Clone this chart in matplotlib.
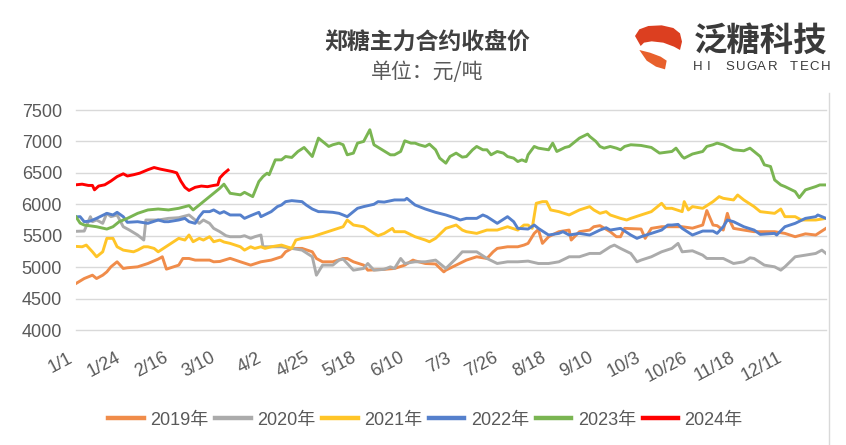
import matplotlib
matplotlib.use("Agg")
import matplotlib.pyplot as plt
from matplotlib.patches import Polygon
from matplotlib.lines import Line2D

plt.rcParams['font.family'] = ['Liberation Sans', 'Noto Sans CJK SC']

# x axis: calendar day of a leap year (1/1 = day 0), ticks every 23 days
tick_days = [0, 23, 46, 69, 92, 115, 138, 161, 184, 207, 230, 253, 276, 299, 322, 345]
tick_labels = ['1/1', '1/24', '2/16', '3/10', '4/2', '4/25', '5/18', '6/10',
               '7/3', '7/26', '8/18', '9/10', '10/3', '10/26', '11/18', '12/11']

# (day, close)
p2019 = [(0, 4740), (4, 4819), (8, 4872), (10, 4819), (13, 4872), (15, 4925), (17, 5005),
         (20, 5085), (23, 4979), (25, 4990), (30, 5005), (35, 5058), (40, 5128), (42, 5165),
         (44, 4968), (50, 5032), (52, 5138), (55, 5138), (58, 5112), (60, 5112), (65, 5112),
         (67, 5085), (70, 5090), (75, 5140), (80, 5085), (85, 5032), (90, 5085), (95, 5112),
         (100, 5165), (102, 5244), (105, 5298), (110, 5298), (115, 5244), (117, 5138),
         (120, 5085), (125, 5085), (130, 5138), (132, 5138), (135, 5085), (140, 5032),
         (142, 4952), (150, 4965), (155, 4979), (160, 5032), (164, 5112), (165, 5100),
         (170, 5058), (175, 5050), (179, 4925), (180, 4952), (185, 5032), (190, 5112),
         (195, 5165), (200, 5138), (203, 5244), (205, 5298), (210, 5324), (215, 5324),
         (218, 5351), (220, 5378), (223, 5537), (225, 5600), (227, 5378), (230, 5484),
         (235, 5564), (240, 5590), (241, 5431), (245, 5564), (250, 5590), (252, 5643),
         (255, 5660), (260, 5564), (263, 5484), (265, 5484), (267, 5617), (275, 5606),
         (277, 5458), (280, 5617), (285, 5643), (295, 5643), (300, 5620), (305, 5670),
         (307, 5900), (310, 5670), (312, 5660), (315, 5590), (317, 5856), (318, 5750),
         (320, 5617), (325, 5590), (330, 5564), (340, 5564), (345, 5537), (350, 5484),
         (355, 5530), (360, 5511), (365, 5617)]

p2020 = [(0, 5570), (4, 5574), (7, 5803), (8, 5723), (10, 5750), (13, 5697), (15, 5856),
         (17, 5803), (20, 5830), (23, 5643), (26, 5590), (30, 5511), (33, 5431), (34, 5750),
         (40, 5750), (45, 5776), (50, 5787), (55, 5830), (58, 5750), (60, 5697), (62, 5750),
         (65, 5697), (67, 5617), (70, 5564), (73, 5500), (75, 5484), (80, 5484), (82, 5500),
         (85, 5458), (87, 5484), (90, 5511), (91, 5324), (95, 5324), (100, 5324), (105, 5298),
         (110, 5271), (115, 5165), (117, 4872), (120, 5032), (125, 5032), (128, 5112),
         (130, 5128), (132, 5058), (135, 4952), (140, 4979), (142, 5058), (145, 4952),
         (150, 4965), (153, 5005), (155, 4979), (158, 5138), (160, 5058), (165, 5085),
         (170, 5085), (175, 5112), (180, 4979), (185, 5138), (188, 5244), (195, 5244),
         (200, 5138), (205, 5058), (210, 5085), (215, 5085), (220, 5096), (225, 5058),
         (230, 5058), (235, 5085), (240, 5165), (245, 5165), (250, 5218), (255, 5218),
         (260, 5324), (262, 5351), (265, 5298), (270, 5218), (273, 5085), (275, 5112),
         (280, 5165), (285, 5244), (290, 5298), (293, 5378), (295, 5244), (300, 5260),
         (305, 5191), (307, 5138), (315, 5138), (320, 5058), (325, 5085), (328, 5149),
         (330, 5138), (335, 5032), (340, 5005), (343, 4952), (345, 5005), (350, 5165),
         (355, 5191), (360, 5218), (363, 5271), (365, 5218)]

p2021 = [(0, 5330), (3, 5324), (5, 5351), (8, 5244), (10, 5165), (13, 5244), (15, 5458),
         (18, 5458), (20, 5324), (23, 5271), (28, 5244), (30, 5271), (33, 5324), (35, 5324),
         (38, 5298), (40, 5244), (45, 5351), (50, 5458), (53, 5431), (55, 5511), (57, 5404),
         (60, 5458), (62, 5431), (65, 5484), (67, 5404), (70, 5431), (72, 5400), (75, 5378),
         (80, 5324), (82, 5271), (85, 5324), (87, 5298), (90, 5324), (92, 5298), (95, 5324),
         (100, 5351), (105, 5298), (107, 5431), (110, 5458), (115, 5484), (120, 5537),
         (125, 5590), (130, 5643), (132, 5750), (135, 5670), (140, 5643), (145, 5537),
         (147, 5500), (150, 5537), (154, 5617), (155, 5564), (160, 5564), (165, 5484),
         (170, 5431), (172, 5404), (175, 5458), (180, 5617), (185, 5670), (188, 5590),
         (190, 5564), (195, 5537), (200, 5590), (205, 5590), (210, 5643), (215, 5590),
         (218, 5670), (220, 5670), (222, 5617), (224, 6016), (227, 6042), (229, 6042),
         (231, 5910), (235, 5883), (240, 5830), (245, 5910), (250, 5963), (252, 5910),
         (255, 5856), (258, 5883), (260, 5830), (265, 5776), (268, 5750), (270, 5776),
         (275, 5830), (280, 5883), (285, 6016), (287, 5936), (290, 5936), (295, 5883),
         (296, 6042), (298, 5910), (300, 5963), (305, 5936), (310, 6042), (313, 6122),
         (315, 6095), (320, 6069), (322, 6148), (325, 6069), (330, 5963), (333, 5883),
         (340, 5856), (343, 5925), (345, 5803), (350, 5803), (353, 5750), (360, 5750),
         (365, 5776)]

p2022 = [(0, 5800), (2, 5803), (4, 5723), (7, 5734), (10, 5776), (15, 5856), (18, 5830),
         (20, 5872), (23, 5803), (25, 5713), (30, 5723), (35, 5697), (40, 5750), (43, 5723),
         (45, 5723), (50, 5750), (53, 5776), (55, 5723), (58, 5697), (60, 5803), (62, 5883),
         (65, 5883), (67, 5910), (70, 5856), (72, 5883), (75, 5830), (80, 5830), (82, 5776),
         (85, 5819), (89, 5872), (90, 5803), (95, 5883), (98, 5963), (100, 5989), (102, 6042),
         (105, 6058), (110, 6042), (112, 5989), (115, 5925), (118, 5883), (120, 5883),
         (125, 5872), (128, 5856), (130, 5830), (132, 5803), (135, 5883), (137, 5936),
         (140, 5963), (145, 6000), (147, 6042), (150, 6035), (155, 6069), (160, 6069),
         (161, 6095), (165, 5989), (170, 5925), (175, 5872), (180, 5830), (185, 5776),
         (187, 5750), (190, 5776), (195, 5776), (198, 5830), (200, 5803), (205, 5697),
         (210, 5803), (213, 5723), (215, 5617), (220, 5606), (223, 5670), (225, 5617),
         (230, 5511), (235, 5537), (237, 5564), (240, 5511), (245, 5537), (250, 5511),
         (255, 5590), (258, 5627), (260, 5590), (265, 5617), (270, 5511), (273, 5458),
         (275, 5484), (280, 5537), (285, 5590), (288, 5670), (290, 5670), (293, 5680),
         (295, 5617), (300, 5511), (305, 5574), (310, 5574), (312, 5537), (315, 5643),
         (317, 5750), (320, 5723), (325, 5643), (330, 5590), (333, 5521), (340, 5537),
         (341, 5511), (345, 5643), (350, 5697), (355, 5776), (360, 5803), (361, 5830),
         (365, 5776)]

p2023 = [(0, 5800), (2, 5700), (4, 5670), (10, 5643), (15, 5606), (18, 5643), (21, 5723),
         (25, 5776), (30, 5856), (35, 5910), (40, 5925), (45, 5910), (50, 5936), (55, 5979),
         (57, 5910), (60, 5989), (65, 6122), (70, 6255), (72, 6320), (75, 6175), (80, 6150),
         (82, 6190), (86, 6122), (89, 6362), (91, 6441), (93, 6495), (94, 6470), (97, 6707),
         (100, 6707), (102, 6760), (105, 6745), (108, 6840), (111, 6904), (115, 6760),
         (118, 7053), (120, 7000), (123, 6920), (125, 6947), (128, 6973), (130, 6947),
         (132, 6787), (135, 6814), (137, 6973), (140, 7000), (143, 7186), (145, 6947),
         (149, 6867), (153, 6787), (155, 6787), (158, 6840), (160, 7010), (163, 6973),
         (165, 6973), (167, 6947), (170, 6920), (172, 6957), (175, 6867), (177, 6734),
         (180, 6654), (182, 6760), (185, 6814), (188, 6750), (190, 6760), (193, 6867),
         (195, 6920), (198, 6867), (200, 6867), (202, 6787), (205, 6840), (208, 6814),
         (210, 6760), (213, 6734), (215, 6680), (217, 6707), (219, 6680), (220, 6787),
         (223, 6920), (225, 6893), (230, 6867), (232, 6973), (234, 6840), (238, 6904),
         (240, 6920), (244, 7026), (245, 7053), (249, 7117), (250, 7080), (253, 7000),
         (255, 6920), (257, 6893), (260, 6920), (263, 6893), (265, 6867), (267, 6920),
         (270, 6947), (275, 6936), (280, 6904), (284, 6814), (290, 6840), (292, 6893),
         (295, 6760), (296, 6734), (300, 6800), (305, 6840), (307, 6920), (310, 6947),
         (312, 6973), (315, 6947), (320, 6867), (325, 6851), (328, 6893), (330, 6840),
         (333, 6760), (335, 6628), (338, 6601), (340, 6388), (343, 6308), (345, 6282),
         (350, 6202), (352, 6106), (355, 6229), (360, 6282), (362, 6308), (365, 6308)]

p2024 = [(0, 6310), (3, 6320), (6, 6300), (8, 6300), (9, 6230), (11, 6290), (14, 6310),
         (17, 6370), (20, 6440), (23, 6485), (25, 6450), (28, 6470), (31, 6495), (35, 6550),
         (38, 6585), (41, 6560), (44, 6540), (47, 6520), (49, 6500), (51, 6370), (53, 6270),
         (55, 6220), (58, 6270), (61, 6290), (64, 6280), (67, 6300), (69, 6310), (70, 6420),
         (72, 6490), (74, 6545)]

series = [('2019年', p2019, '#F08C4A'), ('2020年', p2020, '#ABABAB'),
          ('2021年', p2021, '#FFC528'), ('2022年', p2022, '#5580CC'),
          ('2023年', p2023, '#7AB552'), ('2024年', p2024, '#FF0000')]

fig = plt.figure(figsize=(8.46, 4.45), dpi=100)
W, H = 846, 445
ax = fig.add_axes([76 / W, 1 - 330 / H, 750 / W, 220 / H])

for name, pts, color in series:
    days = [p[0] for p in pts]
    vals = [p[1] for p in pts]
    ax.plot(days, vals, color=color, lw=2.1, label=name, solid_joinstyle='round')

ax.set_xlim(0, 365)
ax.set_ylim(4000, 7500)
ax.set_yticks(range(4000, 7501, 500))
ax.set_xticks(tick_days)
ax.set_xticklabels(tick_labels, rotation=28, ha='right')
ax.grid(axis='y', color='#d9d9d9', lw=1)
for g in ax.get_ygridlines():
    g.set_clip_on(False)
ax.set_axisbelow(True)
for s in ax.spines.values():
    s.set_visible(False)
ax.tick_params(length=0, labelsize=13, colors='#595959')
ax.tick_params(axis='y', pad=10)
ax.tick_params(axis='x', pad=14)

leg = fig.legend(loc='center', bbox_to_anchor=(0.503, 1 - 420 / H), ncol=6, frameon=False,
                 fontsize=13, handlelength=1.95, handletextpad=0.35, columnspacing=0.4)
for line in leg.get_lines():
    line.set_linewidth(3.2)
for t in leg.get_texts():
    t.set_color('#595959')

# title
fig.text(427 / W, 1 - 43 / H, '郑糖主力合约收盘价', ha='center', va='center',
         fontsize=16.5, fontweight='bold', color='#404040', family='Noto Sans CJK SC')
fig.text(427 / W, 1 - 72 / H, '单位：元/吨', ha='center', va='center',
         fontsize=15, color='#595959', family='Noto Sans CJK SC')

# logo (top right)
def lp(zx, zy):
    return ((600 + zx / 3) / W, 1 - (zy / 3) / H)

upper = [lp(*p) for p in [(105, 108), (118, 88), (145, 78), (185, 76), (220, 84), (240, 100),
                          (246, 125), (240, 150), (222, 140), (190, 128), (155, 124),
                          (132, 128), (122, 138)]]
lower = [lp(*p) for p in [(118, 150), (150, 158), (182, 170), (200, 182), (195, 208),
                          (168, 200), (140, 182)]]
fig.add_artist(Polygon(upper, closed=True, transform=fig.transFigure, fc='#DC3F20', ec='none'))
fig.add_artist(Polygon(lower, closed=True, transform=fig.transFigure, fc='#E8602C', ec='none'))

fig.text(761 / W, 1 - 41 / H, '泛糖科技', ha='center', va='center', fontsize=24,
         fontweight='bold', color='#3a3a3a', family='Noto Sans CJK SC')
brand = 'HI SUGAR TECH'
for i, ch in enumerate(brand):
    fig.text((698 + i * 10.6) / W, 1 - 67.5 / H, ch, ha='center', va='center',
             fontsize=9.5, color='#3a3a3a', family='Liberation Sans')

fig.add_artist(Line2D([829 / W, 829 / W], [0, 1 - 93 / H], color='#d9d9d9', lw=1,
                      transform=fig.transFigure))

fig.savefig('out.png', dpi=100)
